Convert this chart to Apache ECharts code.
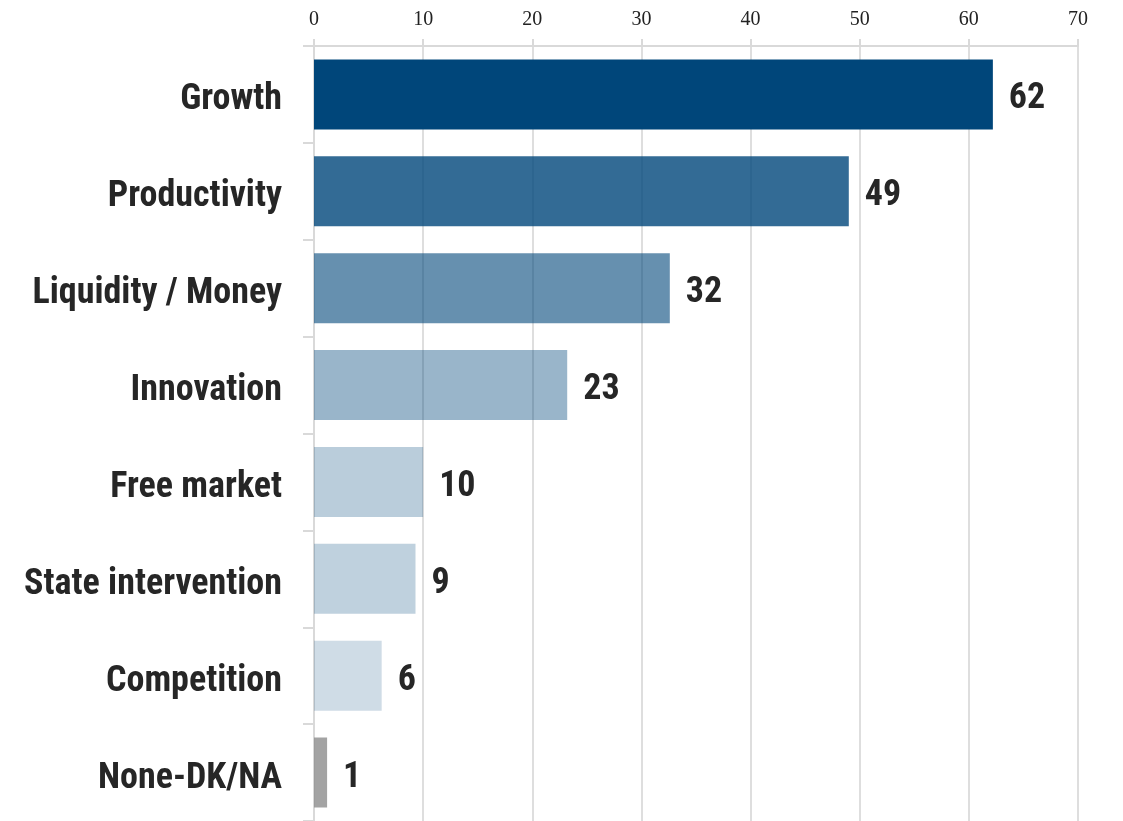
<!DOCTYPE html>
<html>
<head>
<meta charset="utf-8">
<script src="https://cdn.jsdelivr.net/npm/echarts@6/dist/echarts.min.js"></script>
<style>
  html, body { margin: 0; padding: 0; background: #ffffff; }
  #chart { width: 1123px; height: 821px; }
</style>
</head>
<body>
<div id="chart"></div>
<script>
// ---- Data ----
const categories = ['Growth', 'Productivity', 'Liquidity / Money', 'Innovation', 'Free market', 'State intervention', 'Competition', 'None-DK/NA'];
const values = [62.2, 49.0, 32.6, 23.2, 10.0, 9.3, 6.2, 1.2];
const valueLabels = ['62', '49', '32', '23', '10', '9', '6', '1'];
const barColors = [
  'rgba(0,70,122,1)',
  'rgba(0,70,122,0.8)',
  'rgba(0,70,122,0.6)',
  'rgba(0,70,122,0.4)',
  'rgba(0,70,122,0.27)',
  'rgba(0,70,122,0.25)',
  'rgba(0,70,122,0.19)',
  'rgba(140,140,140,0.8)'
];
const xTicks = { min: 0, max: 70, interval: 10 };

const narrow = "'Liberation Sans Narrow', 'Arial Narrow', 'Roboto Condensed', sans-serif";

const chart = echarts.init(document.getElementById('chart'), null, { renderer: 'canvas' });
chart.setOption({
  animation: false,
  backgroundColor: '#ffffff',
  grid: { left: 314, right: 45, top: 46, height: 776, containLabel: false },
  xAxis: {
    type: 'value',
    position: 'top',
    min: xTicks.min,
    max: xTicks.max,
    interval: xTicks.interval,
    axisLine: { show: true, lineStyle: { color: '#d9d9d9', width: 2 } },
    axisTick: { show: true, length: 7, lineStyle: { color: '#d9d9d9', width: 2 } },
    splitLine: { show: true, lineStyle: { color: '#dedede', width: 2 } },
    axisLabel: {
      margin: 16,
      color: '#222222',
      fontFamily: "'Liberation Serif', 'DejaVu Serif', serif",
      fontSize: 20
    }
  },
  yAxis: {
    type: 'category',
    inverse: true,
    data: categories,
    axisLine: { show: true, lineStyle: { color: '#d9d9d9', width: 2 } },
    axisTick: { show: true, length: 11, lineStyle: { color: '#d9d9d9', width: 2 } },
    axisLabel: {
      margin: 32,
      formatter: v => '{a|' + v + '}',
      rich: {
        a: {
          color: '#262626',
          fontFamily: narrow,
          fontWeight: 'bold',
          fontSize: 36,
          padding: [12, 0, 0, 0]
        }
      }
    }
  },
  series: [{
    type: 'bar',
    barWidth: 70,
    data: values.map((v, i) => ({ value: v, itemStyle: { color: barColors[i] } })),
    label: {
      show: true,
      position: 'right',
      distance: 16,
      offset: [0, 5],
      color: '#262626',
      fontFamily: narrow,
      fontWeight: 'bold',
      fontSize: 36,
      formatter: p => valueLabels[p.dataIndex]
    }
  }]
});
</script>
</body>
</html>
